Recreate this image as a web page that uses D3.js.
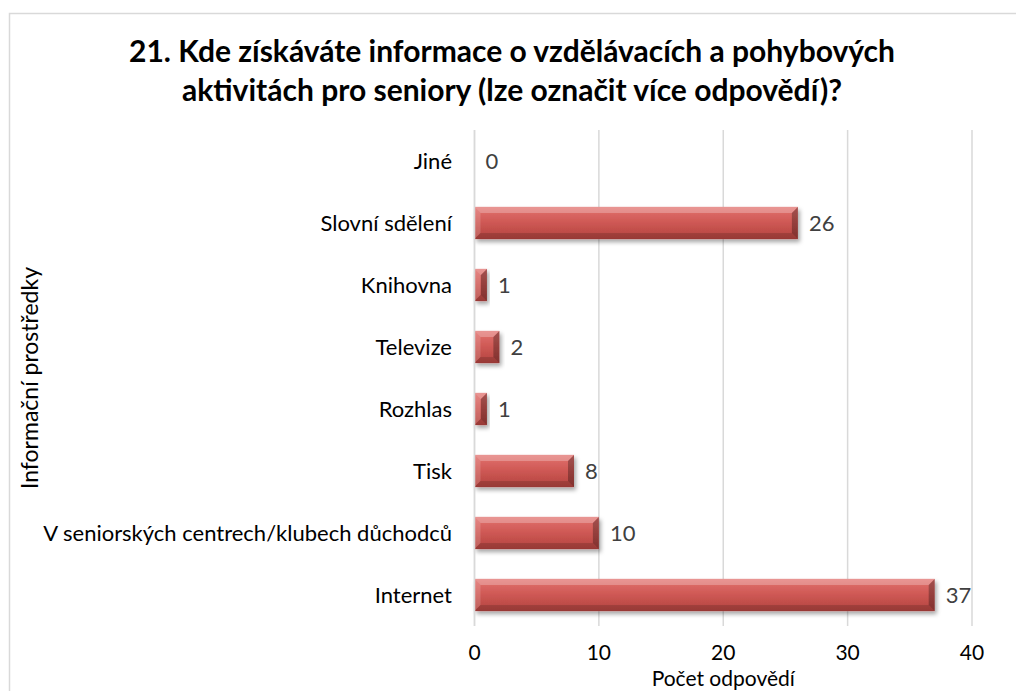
<!DOCTYPE html>
<html>
<head>
<meta charset="utf-8">
<script src="https://cdn.jsdelivr.net/npm/d3@7"></script>
<style>
  body { margin: 0; background: #fff; }
  svg text { font-family: Lato, "Open Sans", sans-serif; }
</style>
</head>
<body>
<div id="chart"></div>
<script>
const categories = [
    "Jiné",
    "Slovní sdělení",
    "Knihovna",
    "Televize",
    "Rozhlas",
    "Tisk",
    "V seniorských centrech/klubech důchodců",
    "Internet"
];
const values = [0, 26, 1, 2, 1, 8, 10, 37];
const xTicks = [0, 10, 20, 30, 40];
const titleLines = [
    "21. Kde získáváte informace o vzdělávacích a pohybových",
    "aktivitách pro seniory (lze označit více odpovědí)?"
];
const xTitle = "Počet odpovědí";
const yTitle = "Informační prostředky";

function drawChart() {
    const width = 1016;
    const height = 691;
    const plot = { left: 474.5, right: 972, top: 130, bottom: 626 };

    const svg = d3.select("#chart")
        .append("svg")
        .attr("width", width)
        .attr("height", height);

    const defs = svg.append("defs");
    const grad = defs.append("linearGradient")
        .attr("id", "barFill")
        .attr("x1", 0).attr("y1", 0).attr("x2", 0).attr("y2", 1);
    grad.append("stop").attr("offset", "0%").attr("stop-color", "#e2726f");
    grad.append("stop").attr("offset", "45%").attr("stop-color", "#d05a56");
    grad.append("stop").attr("offset", "100%").attr("stop-color", "#b3433f");

    const shadow = defs.append("filter")
        .attr("id", "barShadow")
        .attr("x", "-20%").attr("y", "-30%").attr("width", "140%").attr("height", "170%");
    shadow.append("feDropShadow")
        .attr("dx", 2).attr("dy", 3)
        .attr("stdDeviation", 2)
        .attr("flood-color", "#000")
        .attr("flood-opacity", 0.35);

    // chart border
    svg.append("rect")
        .attr("x", 9.5).attr("y", 13.5)
        .attr("width", 1020).attr("height", 700)
        .attr("fill", "#fff")
        .attr("stroke", "#d9d9d9")
        .attr("stroke-width", 1.5);

    const x = d3.scaleLinear()
        .domain([0, 40])
        .range([plot.left, plot.right]);

    const y = d3.scaleBand()
        .domain(categories)
        .range([plot.top, plot.bottom])
        .paddingInner(0.48)
        .paddingOuter(0.24);

    // gridlines
    svg.append("g")
        .selectAll("line")
        .data(xTicks)
        .enter().append("line")
        .attr("x1", d => x(d)).attr("x2", d => x(d))
        .attr("y1", plot.top).attr("y2", plot.bottom)
        .attr("stroke", "#d9d9d9")
        .attr("stroke-width", 1.5);

    // bars with bevel
    const bh = y.bandwidth();
    const bars = svg.append("g")
        .selectAll("g")
        .data(categories.map((c, i) => ({ cat: c, value: values[i] })).filter(d => d.value > 0))
        .enter().append("g")
        .attr("filter", "url(#barShadow)");

    bars.append("rect")
        .attr("x", x(0))
        .attr("y", d => y(d.cat))
        .attr("width", d => x(d.value) - x(0))
        .attr("height", bh)
        .attr("fill", "url(#barFill)");

    function bevel(d, side) {
        const x0 = x(0), x1 = x(d.value), y0 = y(d.cat), y1 = y0 + bh;
        const b = Math.min(6, (x1 - x0) / 2, bh / 2);
        if (side === "top") return [[x0, y0], [x1, y0], [x1 - b, y0 + b], [x0 + b, y0 + b]];
        if (side === "left") return [[x0, y0], [x0 + b, y0 + b], [x0 + b, y1 - b], [x0, y1]];
        if (side === "bottom") return [[x0, y1], [x0 + b, y1 - b], [x1 - b, y1 - b], [x1, y1]];
        return [[x1, y0], [x1, y1], [x1 - b, y1 - b], [x1 - b, y0 + b]];
    }
    const bevelStyle = [
        { side: "top", fill: "#fff", op: 0.25 },
        { side: "left", fill: "#fff", op: 0.15 },
        { side: "bottom", fill: "#000", op: 0.15 },
        { side: "right", fill: "#000", op: 0.28 }
    ];
    bevelStyle.forEach(s => {
        bars.append("polygon")
            .attr("points", d => bevel(d, s.side).map(p => p.join(",")).join(" "))
            .attr("fill", s.fill)
            .attr("fill-opacity", s.op);
    });

    // vertical axis line
    svg.append("line")
        .attr("x1", plot.left).attr("x2", plot.left)
        .attr("y1", plot.top).attr("y2", plot.bottom)
        .attr("stroke", "#d9d9d9")
        .attr("stroke-width", 1.5);

    // value labels
    svg.append("g")
        .selectAll("text")
        .data(values)
        .enter().append("text")
        .attr("x", d => x(d) + 11)
        .attr("y", (d, i) => y(categories[i]) + bh / 2 + 8)
        .attr("fill", "#404040")
        .style("font-size", "22px")
        .text(d => d);

    // category labels
    svg.append("g")
        .selectAll("text")
        .data(categories)
        .enter().append("text")
        .attr("x", 452)
        .attr("y", d => y(d) + bh / 2 + 8)
        .attr("text-anchor", "end")
        .attr("fill", "#000")
        .style("font-size", "22px")
        .text(d => d);

    // x tick labels
    svg.append("g")
        .selectAll("text")
        .data(xTicks)
        .enter().append("text")
        .attr("x", d => x(d))
        .attr("y", 660)
        .attr("text-anchor", "middle")
        .attr("fill", "#000")
        .style("font-size", "21px")
        .text(d => d);

    // axis titles
    svg.append("text")
        .attr("x", (plot.left + plot.right) / 2)
        .attr("y", 686)
        .attr("text-anchor", "middle")
        .attr("fill", "#000")
        .style("font-size", "21px")
        .text(xTitle);

    svg.append("text")
        .attr("transform", "translate(38,378) rotate(-90)")
        .attr("text-anchor", "middle")
        .attr("fill", "#000")
        .style("font-size", "23px")
        .text(yTitle);

    // title
    svg.append("g")
        .selectAll("text")
        .data(titleLines)
        .enter().append("text")
        .attr("x", 512)
        .attr("y", (d, i) => 62 + i * 39)
        .attr("text-anchor", "middle")
        .attr("fill", "#000")
        .style("font-size", "30px")
        .style("font-weight", "bold")
        .text(d => d);
}

drawChart();
</script>
</body>
</html>
